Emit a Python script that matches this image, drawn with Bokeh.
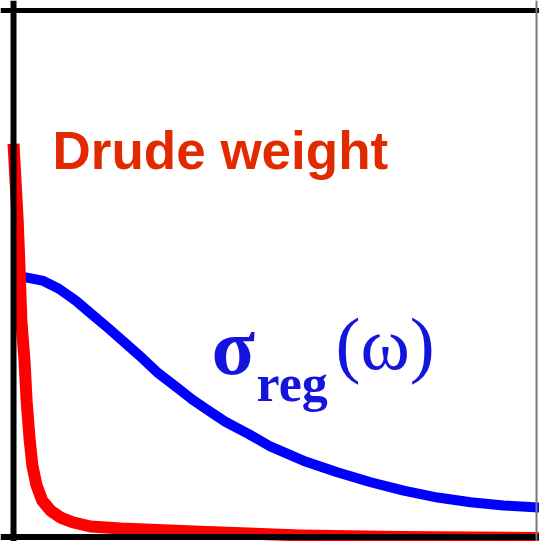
from bokeh.plotting import figure
from bokeh.models import Range1d, Span
from bokeh.core.properties import value
from bokeh.embed import file_html
from bokeh.resources import INLINE

# Frequency axis (arbitrary units) and conductivity (arbitrary units)
drude_omega = [0.00, 0.08, 0.11, 0.15, 0.21, 0.25, 0.31, 0.36, 0.44, 0.55,
               0.71, 0.90, 1.13, 1.47, 2.05, 3.57, 5.49, 7.40, 10.06]
drude_sigma = [0.747, 0.601, 0.525, 0.411, 0.335, 0.259, 0.183, 0.136, 0.098, 0.069,
               0.050, 0.037, 0.028, 0.020, 0.016, 0.010, 0.003, 0.000, -0.002]

reg_omega = [0.13, 0.23, 0.55, 0.86, 1.19, 1.51, 1.82, 2.14, 2.47, 2.77, 3.10, 3.42,
             3.73, 4.05, 4.49, 4.91, 5.54, 6.19, 6.83, 7.46, 8.11, 8.74, 9.37, 10.06]
reg_sigma = [0.495, 0.493, 0.487, 0.472, 0.449, 0.422, 0.396, 0.368, 0.339, 0.311, 0.286, 0.261,
             0.240, 0.219, 0.196, 0.172, 0.145, 0.123, 0.104, 0.088, 0.075, 0.066, 0.060, 0.056]

p = figure(width=539, height=541, output_backend="svg", toolbar_location=None,
           x_axis_location=None, y_axis_location=None, min_border=0,
           x_range=Range1d(-0.249, 10.057), y_range=Range1d(-0.0085, 1.019))
p.grid.visible = False
p.outline_line_color = None
p.background_fill_color = "white"
p.border_fill_color = "white"

# regular (interband) part, then the Drude peak on top
p.line(reg_omega, reg_sigma, line_color="#0000ff", line_width=10, line_join="round")
p.line(drude_omega, drude_sigma, line_color="#ff0000", line_width=12, line_join="round")

# frame
p.add_layout(Span(location=0, dimension="height", line_color="black", line_width=6))
p.add_layout(Span(location=0, dimension="width", line_color="black", line_width=6))
p.add_layout(Span(location=1, dimension="width", line_color="black", line_width=5))
p.add_layout(Span(location=10, dimension="height", line_color="#777777", line_width=2))

# labels
p.text(x=[0.746], y=[0.734], text=["Drude weight"], text_color="#e12a00",
       text_font=value("Liberation Sans"), text_font_style="bold",
       text_font_size="53px", text_align="left", text_baseline="alphabetic")
p.text(x=[3.786], y=[0.3618], text=["σ"], text_color="#1414dc",
       text_font=value("Liberation Serif"), text_font_style="bold",
       text_font_size="80px", text_align="left", text_baseline="alphabetic")
p.text(x=[4.646], y=[0.2915], text=["reg"], text_color="#1414dc",
       text_font=value("Liberation Serif"), text_font_style="bold",
       text_font_size="52px", text_align="left", text_baseline="alphabetic")
p.text(x=[6.157], y=[0.3675], text=["(ω)"], text_color="#1414dc",
       text_font=value("Liberation Serif"), text_font_style="normal",
       text_font_size="75px", text_align="left", text_baseline="alphabetic")

open("out.html", "w").write(file_html(p, INLINE))
